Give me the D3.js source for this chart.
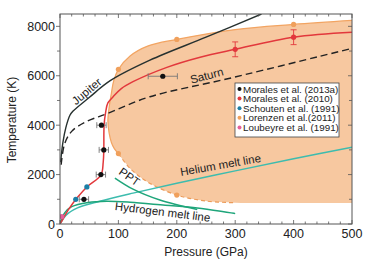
<html>
  <head>
    <script src="https://d3js.org/d3.v7.min.js"></script>
    <style>
      body { margin: 0; background: #fff; }
      text { font-family: "Liberation Sans", Arial, sans-serif; fill: #222; }
    </style>
  </head>
  <body>
    <script>
      // axis ticks
      var xTicks = [0, 100, 200, 300, 400, 500];
      var yTicks = [0, 2000, 4000, 6000, 8000];

      // curves, [pressure GPa, temperature K]
      var jupiter = [[1,2500],[5,3300],[10,3900],[17,4400],[22,4560],[50,5120],[86,5800],[154,6630],[250,7560],[345,8500]];
      var saturn = [[2,2400],[8,3250],[20,3750],[43,4120],[82,4480],[154,5150],[291,5900],[495,7080]];
      var morales2010Line = [[0,0],[2,80],[15,600],[29,1050],[46,1500],[70,1980],[74,2500],[75,3000],[75.5,4000],[78,4500],[82,4900],[91,5150],[105,5480],[125,5760],[183,6340],[240,6750],[300,7070],[400,7560],[500,7760]];
      var hydrogenMelt = [[0,0],[8,450],[20,700],[48,870],[80,920],[120,880],[180,760],[235,650],[300,420]];
      var heliumMelt = [[0,0],[10,350],[30,650],[68,920],[125,1250],[200,1650],[300,2150],[400,2640],[500,3110]];
      var ppt = [[94,1860],[125,1410],[171,970],[235,590]];
      // region outline: top edge right to left, then down and along bottom
      var regionUpper = [[500,8240],[400,8080],[300,7870],[200,7470],[150,7200],[120,6800],[100,6260],[92,5800],[88,5300],[84,4700],[82,4200],[84,3700],[88,3300],[93,3050],[100,2850]];
      var regionLower = [[100,2850],[120,2250],[150,1700],[200,1170],[250,930],[300,860],[400,850],[500,850]];

      // data points
      var morales2013a = [[41,1000,8],[70,2000,8],[75,3000,8],[71,4000,8],[176,5980,25]];
      var morales2010 = [[300,7070,300],[400,7560,300]];
      var schouten = [[27,1000],[46,1500]];
      var lorenzen = [[100,6260],[200,7470],[400,8080],[100,2850],[200,1170]];
      var loubeyre = [[3,300]];

      var legendNames = ["Morales et al. (2013a)", "Morales et al. (2010)", "Schouten et al. (1991)", "Lorenzen et al.(2011)", "Loubeyre et al. (1991)"];
      var legendColors = ["#111", "#e2383c", "#1b7fa6", "#f0a05c", "#e5609a"];

      var width = 370, height = 265;
      var svg = d3.select("body").append("svg")
                  .attr("width", width).attr("height", height);

      var x = d3.scaleLinear().domain([0, 500]).range([60, 352]);
      var y = d3.scaleLinear().domain([0, 8500]).range([224, 14]);

      var line = d3.line()
                   .x(function(d) { return x(d[0]); })
                   .y(function(d) { return y(d[1]); })
                   .curve(d3.curveCatmullRom.alpha(0.5));

      var plot = svg.append("g");
      plot.append("clipPath").attr("id", "clip")
          .append("rect").attr("x", 60).attr("y", 14).attr("width", 292).attr("height", 210);
      var inner = plot.append("g").attr("clip-path", "url(#clip)");

      //orange region
      var regionPath = line(regionUpper) + line(regionLower).replace(/^M/, "L") + "Z";
      inner.append("path").attr("d", regionPath)
           .attr("fill", "#f7c8a0").attr("stroke", "none");
      inner.append("path").attr("d", line(regionUpper))
           .attr("fill", "none").attr("stroke", "#f2a462").attr("stroke-width", 1.2);
      inner.append("path").attr("d", line(regionLower.slice(0, 6)))
           .attr("fill", "none").attr("stroke", "#ec9a58").attr("stroke-width", 1.2)
           .attr("stroke-dasharray", "4,3");

      //lines
      inner.append("path").attr("d", line(heliumMelt))
           .attr("fill", "none").attr("stroke", "#3dbcae").attr("stroke-width", 1.5);
      inner.append("path").attr("d", line(hydrogenMelt))
           .attr("fill", "none").attr("stroke", "#1ea57a").attr("stroke-width", 1.5);
      inner.append("path").attr("d", line(ppt))
           .attr("fill", "none").attr("stroke", "#1ea57a").attr("stroke-width", 1.5);
      inner.append("path").attr("d", line(jupiter))
           .attr("fill", "none").attr("stroke", "#27312f").attr("stroke-width", 1.4);
      inner.append("path").attr("d", line(saturn))
           .attr("fill", "none").attr("stroke", "#222").attr("stroke-width", 1.4)
           .attr("stroke-dasharray", "7,4");
      inner.append("path").attr("d", line(morales2010Line))
           .attr("fill", "none").attr("stroke", "#e2383c").attr("stroke-width", 1.5);

      //error bars
      var errColor = "#777";
      inner.selectAll(".hbar").data(morales2013a).enter().append("g")
           .each(function(d) {
             var g = d3.select(this);
             g.append("line").attr("x1", x(d[0]-d[2])).attr("x2", x(d[0]+d[2]))
              .attr("y1", y(d[1])).attr("y2", y(d[1])).attr("stroke", errColor).attr("stroke-width", 0.9);
             [d[0]-d[2], d[0]+d[2]].forEach(function(v) {
               g.append("line").attr("x1", x(v)).attr("x2", x(v))
                .attr("y1", y(d[1])-3).attr("y2", y(d[1])+3).attr("stroke", errColor).attr("stroke-width", 0.9);
             });
           });
      inner.selectAll(".vbar").data(morales2010).enter().append("g")
           .each(function(d) {
             var g = d3.select(this);
             g.append("line").attr("x1", x(d[0])).attr("x2", x(d[0]))
              .attr("y1", y(d[1]-d[2])).attr("y2", y(d[1]+d[2])).attr("stroke", "#e2383c").attr("stroke-width", 0.9);
             [d[1]-d[2], d[1]+d[2]].forEach(function(v) {
               g.append("line").attr("x1", x(d[0])-3).attr("x2", x(d[0])+3)
                .attr("y1", y(v)).attr("y2", y(v)).attr("stroke", "#e2383c").attr("stroke-width", 0.9);
             });
           });

      //points
      function dots(data, color) {
        inner.selectAll(null).data(data).enter().append("circle")
             .attr("cx", function(d) { return x(d[0]); })
             .attr("cy", function(d) { return y(d[1]); })
             .attr("r", 2.6).attr("fill", color);
      }
      dots(lorenzen, legendColors[3]);
      dots(loubeyre, legendColors[4]);
      dots(schouten, legendColors[2]);
      dots(morales2010, legendColors[1]);
      dots(morales2013a, legendColors[0]);

      //curve labels
      function label(txt, p, t, angle, size) {
        svg.append("text").attr("text-anchor", "middle")
           .attr("transform", "translate(" + x(p) + "," + y(t) + ") rotate(" + angle + ")")
           .attr("font-size", size).text(txt);
      }
      label("Jupiter", 50, 5250, -40, 11.5);
      label("Saturn", 253, 5850, -15, 11.5);
      label("Helium melt line", 276, 2230, -10, 11.5);
      label("Hydrogen melt line", 175, 330, 7, 11.5);
      label("PPT", 115, 1780, 35, 11.5);

      //frame and ticks
      svg.append("rect").attr("x", 60).attr("y", 14).attr("width", 292).attr("height", 210)
         .attr("fill", "none").attr("stroke", "#555").attr("stroke-width", 1);

      var xMinor = d3.range(0, 501, 20);
      var yMinor = d3.range(0, 8001, 1000);
      var tickColor = "#555";
      xMinor.forEach(function(v) {
        var len = (v % 100 === 0) ? 4 : 2.5;
        svg.append("line").attr("x1", x(v)).attr("x2", x(v)).attr("y1", 224).attr("y2", 224-len)
           .attr("stroke", tickColor).attr("stroke-width", 0.8);
        svg.append("line").attr("x1", x(v)).attr("x2", x(v)).attr("y1", 14).attr("y2", 14+len)
           .attr("stroke", tickColor).attr("stroke-width", 0.8);
      });
      yMinor.forEach(function(v) {
        var len = (v % 2000 === 0) ? 4 : 3;
        svg.append("line").attr("x1", 60).attr("x2", 60-len).attr("y1", y(v)).attr("y2", y(v))
           .attr("stroke", tickColor).attr("stroke-width", 0.8);
        svg.append("line").attr("x1", 352).attr("x2", 352-len).attr("y1", y(v)).attr("y2", y(v))
           .attr("stroke", tickColor).attr("stroke-width", 0.8);
      });

      svg.selectAll(".xl").data(xTicks).enter().append("text")
         .attr("x", function(d) { return x(d); }).attr("y", 238)
         .attr("text-anchor", "middle").attr("font-size", 12.5)
         .text(function(d) { return d; });
      svg.selectAll(".yl").data(yTicks).enter().append("text")
         .attr("x", 55).attr("y", function(d) { return y(d) + 4.5; })
         .attr("text-anchor", "end").attr("font-size", 12.5)
         .text(function(d) { return d; });

      svg.append("text").attr("x", 206).attr("y", 256).attr("text-anchor", "middle")
         .attr("font-size", 12).text("Pressure (GPa)");
      svg.append("text").attr("transform", "translate(16,120) rotate(-90)")
         .attr("text-anchor", "middle").attr("font-size", 12).text("Temperature (K)");

      //legend
      var legend = svg.append("g");
      legend.append("rect").attr("x", 235).attr("y", 83).attr("width", 104).attr("height", 54)
            .attr("fill", "#fff").attr("stroke", "#444").attr("stroke-width", 0.8);
      legend.selectAll("circle").data(legendNames).enter().append("circle")
            .attr("cx", 239.5).attr("cy", function(d, i) { return 89 + i*9.6; })
            .attr("r", 2).attr("fill", function(d, i) { return legendColors[i]; });
      legend.selectAll("text").data(legendNames).enter().append("text")
            .attr("x", 243).attr("y", function(d, i) { return 92.5 + i*9.6; })
            .attr("font-size", 9.8).text(function(d) { return d; });
    </script>
  </body>
</html>
